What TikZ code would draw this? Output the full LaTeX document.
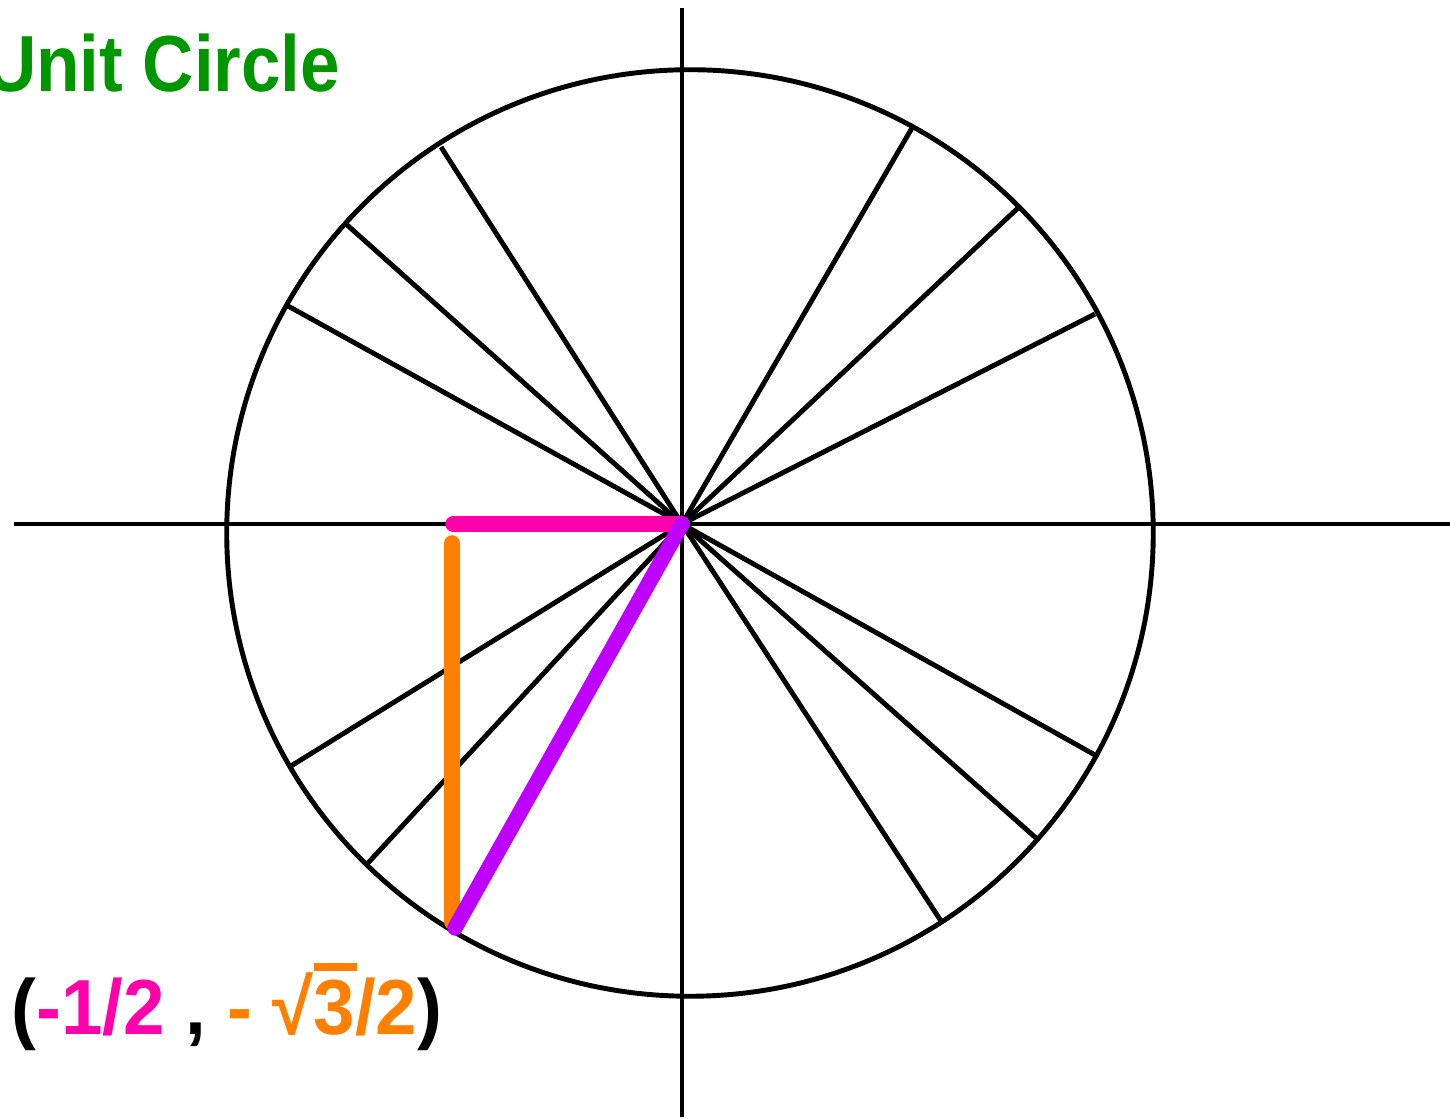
\documentclass[tikz,border=0pt]{standalone}
\usepackage{fontspec}
\setmainfont{Liberation Sans}
\definecolor{titlegreen}{RGB}{0,150,0}
\definecolor{legpink}{RGB}{255,0,170}
\definecolor{legorange}{RGB}{255,128,0}
\definecolor{radpurple}{RGB}{190,0,255}
\tikzset{
  axis/.style={line width=1.4pt},
  spoke/.style={line width=1.4pt},
  leg/.style={line width=4.4pt, line cap=round},
  lbl/.style={inner sep=0pt, font=\bfseries\fontsize{20.2}{24}\selectfont},
}
\begin{document}
\begin{tikzpicture}[x=0.01cm, y=0.01cm]
	\useasboundingbox (-682,-595) rectangle (768,524);
	\coordinate (O) at (0,0);
	
	% Axes
	\draw[axis] (-668,0) -- (768,0);
	\draw[axis] (0,516) -- (0,-593);
	
	% Circle (a little off the origin, as drawn)
	\draw[axis] (8,-9) circle (4.63cm);
	
	% Spokes out to the circle
	\foreach \x/\y in {413/210, 336/316, 230/396, -241/377, -336/300, -394/218,
		-391/-242, -314/-339, 259/-397, 354/-314, 413/-231}{
		\draw[spoke] (O) -- (\x,\y);
	}
	
	% Triangle
	\coordinate (P) at (-227,-404);
	\coordinate (Q) at (-229,0);
	\draw[leg, legpink] (Q) -- (O);
	\draw[leg, legorange] (-230,-19) -- (-230,-398);
	\draw[leg, radpurple] (O) -- (P);
	
	\node[lbl, text=titlegreen, anchor=base east] (title) at (-341,432) {\scalebox{1}[1.12]{Unit Circle}};
	\node[lbl, anchor=base west] (point) at (-671,-511) {\scalebox{1.05}[1.1]{(\textcolor{legpink}{-1/2} , \textcolor{legorange}{- √\rlap{\raisebox{0.82em}{\rule{0.58em}{0.1em}}}3/2})}};
\end{tikzpicture}
\end{document}
